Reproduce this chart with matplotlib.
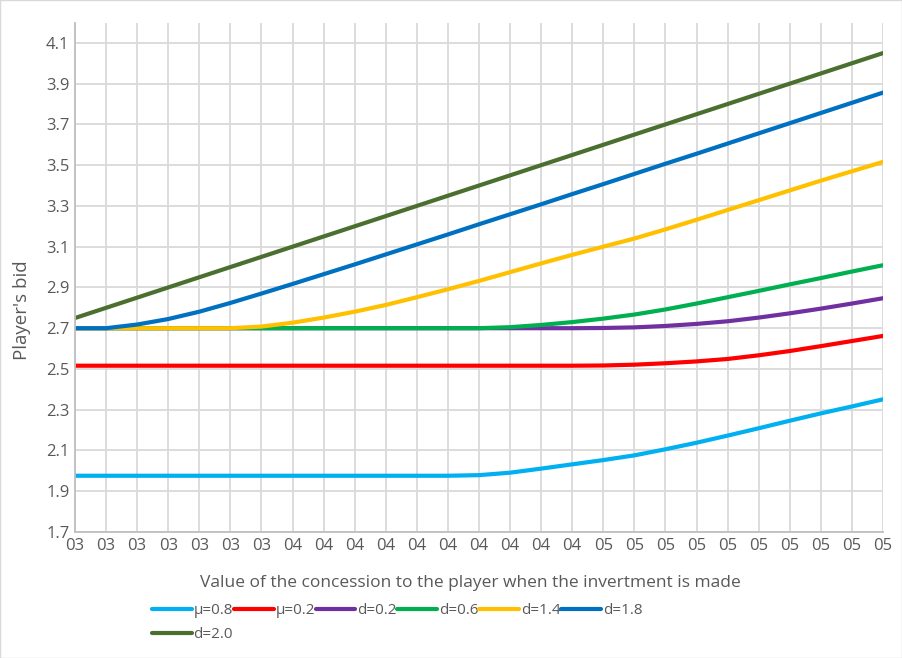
import numpy as np
import matplotlib
matplotlib.use("Agg")
import matplotlib.pyplot as plt

plt.rcParams['font.family'] = ['Open Sans', 'DejaVu Sans']

# category labels along the x axis (27 points)
x_labels = ["03"] * 7 + ["04"] * 10 + ["05"] * 10

mu_08 = [1.976] * 13 + [1.979, 1.991, 2.011, 2.032, 2.053, 2.076, 2.106, 2.138, 2.173,
                        2.209, 2.246, 2.282, 2.316, 2.351]
mu_02 = [2.516] * 17 + [2.517, 2.521, 2.528, 2.537, 2.549, 2.567, 2.588, 2.612, 2.637, 2.662]
d_02 = [2.70] * 17 + [2.701, 2.704, 2.711, 2.721, 2.734, 2.752, 2.773, 2.796, 2.821, 2.847]
d_06 = [2.70] * 14 + [2.705, 2.716, 2.73, 2.747, 2.767, 2.792, 2.821, 2.852,
                      2.883, 2.915, 2.946, 2.978, 3.009]
d_14 = [2.70] * 6 + [2.708, 2.727, 2.752, 2.781, 2.814, 2.852, 2.891, 2.932, 2.975,
                     3.018, 3.06, 3.10, 3.14, 3.185, 3.232, 3.28, 3.328, 3.376,
                     3.424, 3.47, 3.516]
d_18 = [2.70, 2.70, 2.718, 2.745, 2.781, 2.824, 2.870, 2.917, 2.965, 3.013, 3.062,
        3.111, 3.16, 3.21, 3.259, 3.308, 3.358, 3.407, 3.457, 3.507, 3.556, 3.606,
        3.656, 3.706, 3.756, 3.806, 3.856]
d_20 = [2.75, 2.80, 2.85, 2.90, 2.95, 3.00, 3.05, 3.10, 3.15, 3.20, 3.25, 3.30,
        3.35, 3.40, 3.45, 3.50, 3.55, 3.60, 3.65, 3.70, 3.75, 3.80, 3.85, 3.90,
        3.95, 4.00, 4.05]

series = [
    ("μ=0.8", mu_08, "#00B0F0"),
    ("μ=0.2", mu_02, "#FF0000"),
    ("d=0.2", d_02, "#7030A0"),
    ("d=0.6", d_06, "#00B050"),
    ("d=1.4", d_14, "#FFC000"),
    ("d=1.8", d_18, "#0070C0"),
    ("d=2.0", d_20, "#4B6F2F"),
]

fig = plt.figure(figsize=(9.02, 6.58), dpi=100)
ax = fig.add_axes([75 / 902, 126 / 658, 808 / 902, 509.5 / 658])

x = np.arange(len(x_labels))
lines = []
for name, vals, col in series:
    ln, = ax.plot(x, vals, color=col, lw=3, label=name,
                  solid_capstyle="round", solid_joinstyle="round")
    lines.append(ln)

ax.set_xlim(0, len(x_labels) - 1)
ax.set_ylim(1.7, 4.2)
yt = np.arange(1.7, 4.15, 0.2)
ax.set_yticks(yt)
ax.set_yticklabels([f"{v:.1f}" for v in yt])
ax.set_xticks(x)
ax.set_xticklabels(x_labels)
ax.tick_params(length=0, labelsize=12, colors="#595959", pad=4)
ax.grid(True, color="#D9D9D9", lw=1.3)
ax.set_axisbelow(True)
for s in ["top", "right"]:
    ax.spines[s].set_visible(False)
for s in ["left", "bottom"]:
    ax.spines[s].set_color("#BFBFBF")
    ax.spines[s].set_linewidth(1.3)

fig.text(22 / 902, 1 - 310 / 658, "Player's bid", rotation=90,
         ha="center", va="center", fontsize=13.5, color="#595959")
fig.text(470 / 902, 1 - 583 / 658,
         "Value of the concession to the player when the invertment is made",
         ha="center", va="center", fontsize=12.5, color="#595959")

# legend fills column by column, so put d=2.0 second to land on row two
order = [0, 6, 1, 2, 3, 4, 5]
fig.legend([lines[i] for i in order], [series[i][0] for i in order],
           loc="upper left", bbox_to_anchor=(152 / 902, 1 - 603 / 658),
           ncol=6, frameon=False, fontsize=11, handlelength=2.6,
           handletextpad=0.12, columnspacing=0.05, labelspacing=0.58,
           borderaxespad=0, borderpad=0, labelcolor="#595959")

fig.patches.append(plt.Rectangle((0, 0), 1, 1, transform=fig.transFigure,
                                 fill=False, edgecolor="#D9D9D9", lw=1))

fig.savefig("out.png", dpi=100)
